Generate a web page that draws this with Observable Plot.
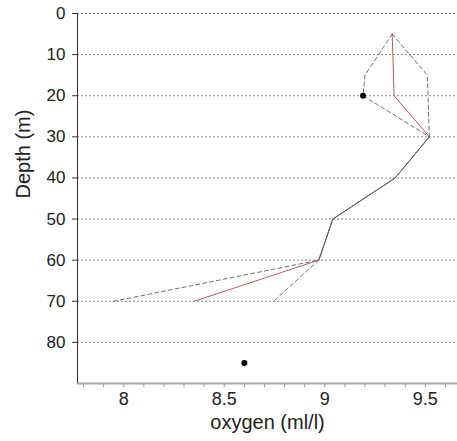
<!DOCTYPE html>
<html>
<head>
<meta charset="utf-8">
<script src="https://cdn.jsdelivr.net/npm/d3@7"></script>
<script src="https://cdn.jsdelivr.net/npm/@observablehq/plot@0.6"></script>
<style>
  html, body { margin: 0; padding: 0; background: #fff; }
  #chart { width: 457px; height: 441px; }
</style>
</head>
<body>
<div id="chart"></div>
<script>
// Mean profile (solid red)
const depthMean = [5, 20, 30, 40, 50, 60, 70];
const oxyMean   = [9.335, 9.345, 9.52, 9.35, 9.04, 8.97, 8.35];
// Lower bound (dashed)
const depthLow = [5, 15, 20, 30, 40, 50, 60, 70];
const oxyLow   = [9.335, 9.2, 9.19, 9.52, 9.35, 9.04, 8.97, 7.95];
// Upper bound (dashed)
const depthHigh = [5, 15, 30, 40, 50, 60, 70];
const oxyHigh   = [9.335, 9.51, 9.52, 9.35, 9.04, 8.97, 8.745];
// Single observations (black dots)
const depthPts = [20, 85];
const oxyPts   = [9.19, 8.6];
// Axes
const depthTicks = [0, 10, 20, 30, 40, 50, 60, 70, 80];
const oxyTicks = d3.range(78, 97).map(d => d / 10);
const oxyLabels = [8, 8.5, 9, 9.5];
const xLabel = "oxygen (ml/l)";
const yLabel = "Depth (m)";

const meanData = depthMean.map((d, i) => ({depth: d, oxy: oxyMean[i]}));
const lowData = depthLow.map((d, i) => ({depth: d, oxy: oxyLow[i]}));
const highData = depthHigh.map((d, i) => ({depth: d, oxy: oxyHigh[i]}));
const ptData = depthPts.map((d, i) => ({depth: d, oxy: oxyPts[i]}));

const xMin = 7.77, xMax = 9.66;

const chart = Plot.plot({
  width: 457,
  height: 441,
  marginLeft: 77,
  marginTop: 13,
  marginBottom: 58,
  marginRight: 0,
  style: {fontFamily: "'Liberation Sans', Arial, sans-serif", color: "#222", background: "#fff"},
  x: {domain: [xMin, xMax]},
  y: {domain: [0, 90], reverse: true},
  marks: [
    Plot.ruleY(depthTicks, {x1: xMin, x2: xMax, stroke: "#888", strokeWidth: 1, strokeDasharray: "2,2"}),
    Plot.ruleY([90], {x1: xMin, x2: xMax, stroke: "#aaa", strokeWidth: 2}),
    Plot.ruleX([xMin], {y1: 0, y2: 90, stroke: "#333", strokeWidth: 1}),
    Plot.axisX({ticks: oxyTicks, tickSize: 4, tickPadding: 5, stroke: "#999",
      tickFormat: d => oxyLabels.some(v => Math.abs(v - d) < 1e-9) ? String(+d.toFixed(1)) : "",
      fontSize: 18, label: null, fill: "#222"}),
    Plot.axisY({ticks: depthTicks, tickSize: 5, tickPadding: 7, stroke: "#333",
      tickFormat: d => String(d), fontSize: 17, label: null, fill: "#222"}),
    Plot.text([yLabel], {frameAnchor: "left", dx: -54, rotate: -90, fontSize: 20, fill: "#222"}),
    Plot.text([xLabel], {frameAnchor: "bottom", dy: 45, fontSize: 20, fill: "#222"}),
    Plot.line(meanData, {x: "oxy", y: "depth", stroke: "#c25a58", strokeWidth: 1}),
    Plot.line(lowData, {x: "oxy", y: "depth", stroke: "#55557a", strokeWidth: 1, strokeDasharray: "4,3", strokeOpacity: 0.85}),
    Plot.line(highData, {x: "oxy", y: "depth", stroke: "#55557a", strokeWidth: 1, strokeDasharray: "4,3", strokeOpacity: 0.85}),
    Plot.dot(ptData, {x: "oxy", y: "depth", r: 3, fill: "#000", stroke: "none"})
  ]
});
document.getElementById("chart").appendChild(chart);
</script>
</body>
</html>
